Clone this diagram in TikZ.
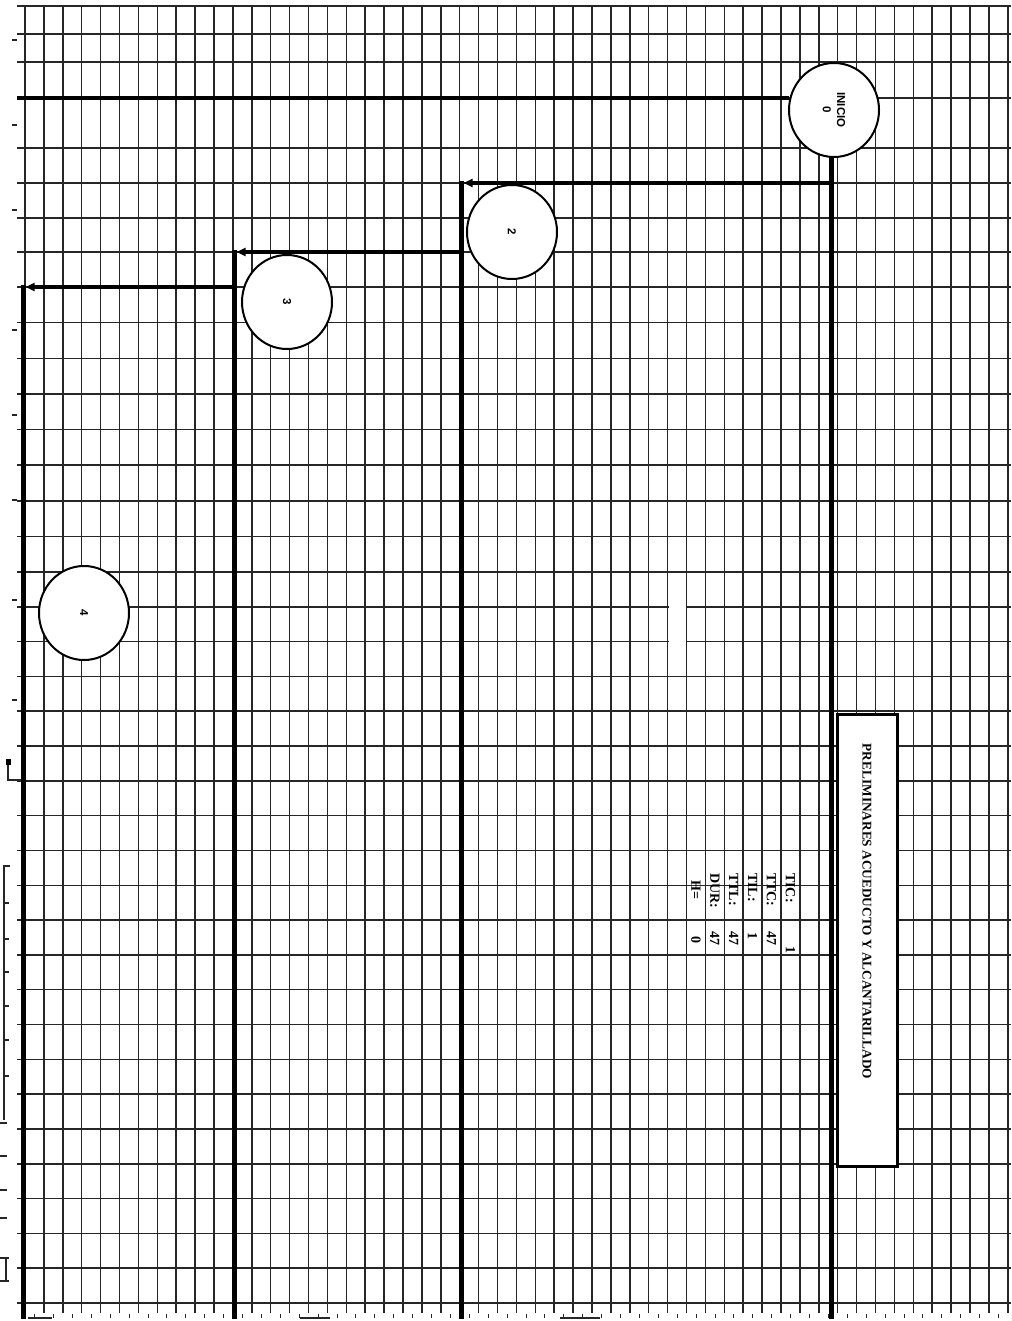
\documentclass[tikz,border=0pt]{standalone}
\usepackage{fontspec}
\setmainfont{Liberation Serif}
\newfontfamily\arialf{Liberation Sans}
\usepackage{graphicx}
\usetikzlibrary{arrows.meta,shapes.geometric}
\begin{document}
\begin{tikzpicture}[x=1pt,y=-1pt,
  gridline/.style={line width=1.5pt, black!85},
  flow/.style={line width=3.6pt, black},
  riser/.style={line width=5pt, black},
  tip/.style={-{Triangle[length=9pt,width=8pt]}},
  event/.style={ellipse, draw, line width=2pt, fill=white, minimum width=90pt,
    minimum height=94pt, inner sep=0pt, font=\arialf\bfseries\fontsize{11.5}{12}\selectfont},
  lbl/.style={rotate=-90, anchor=west, inner sep=0pt, font=\bfseries\fontsize{14}{14}\selectfont},
  val/.style={rotate=-90, inner sep=0pt, font=\bfseries\fontsize{14}{14}\selectfont},
  edgemark/.style={line width=1.2pt, black!85},
]
\useasboundingbox (0,0) rectangle (1011,1321);
\fill[white] (0,0) rectangle (1011,1321);

% ---- grid paper ----
\foreach \k in {0,...,52} \draw[gridline] ({25+18.9*\k},6) -- ({25+18.9*\k},1313);
\foreach \y in {6,34,62,98,148,183,218,252} \draw[gridline] (17,\y) -- (1011,\y);
\foreach \i in {0,...,8} \draw[gridline] (17,{287+35.625*\i}) -- (1011,{287+35.625*\i});
\foreach \i in {1,...,21} \draw[gridline] (17,{572+34.81*\i}) -- (1011,{572+34.81*\i});
\fill[white] (668.6,585) rectangle (685.6,668);

% ruler marks along the bottom edge
\foreach \k in {0,...,51} \draw[edgemark, line width=0.8pt] ({34.5+18.9*\k},1314) -- ({34.5+18.9*\k},1318);
\draw[edgemark] (28,1318) -- (52,1318);
\draw[edgemark] (300,1318) -- (330,1318);
\draw[edgemark] (560,1318) -- (600,1318);

% marks along the left edge
\draw[edgemark, line width=1.5pt] (8,762) -- (8,780) -- (21,780);
\fill (6,759) rectangle (11,765);
\draw[edgemark] (10,866) -- (4,866) -- (4,1120);
\foreach \y in {903,939,972,1006,1040,1076} \draw[edgemark] (4,\y) -- (9,\y);
\foreach \y in {1123,1156,1190,1218} \draw[edgemark] (0,\y) -- (7,\y);
\draw[edgemark] (6,1258) -- (6,1281);
\draw[edgemark] (0,1258) -- (9,1258);
\draw[edgemark] (0,1281) -- (9,1281);
\foreach \y in {40,125,210,330,415,500,600,700} \draw[edgemark] (12,\y) -- (17,\y);

% ---- events ----
\node[event] (ini) at (834,110) {\rotatebox{-90}{\shortstack{INICIO\\[3pt]0}}};
\node[event] (n2) at (512,232) {\rotatebox{-90}{2}};
\node[event] (n3) at (287,302) {\rotatebox{-90}{3}};
\node[event] (n4) at (84,613) {\rotatebox{-90}{4}};

% ---- connectors ----
\coordinate (leftedge) at (17,98);
\coordinate (r1top) at (831,157);
\coordinate (r1bot) at (831,1319);
\coordinate (b2) at (831,183);
\coordinate (r2tip) at (463.5,183);
\coordinate (r2top) at (461,181.2);
\coordinate (r2bot) at (461,1319);
\coordinate (b3) at (461,252);
\coordinate (r3tip) at (236.5,252);
\coordinate (r3top) at (234,250.2);
\coordinate (r3bot) at (234,1319);
\coordinate (b4) at (234,287);
\coordinate (r4tip) at (25.5,287);
\coordinate (r4top) at (23,285.2);
\coordinate (r4bot) at (23,1319);

\draw[flow] (ini.165) -- (ini.165 -| leftedge);
\draw[riser] (r1top) -- (r1bot);
\draw[flow, tip] (b2) -- (r2tip);
\draw[riser] (r2top) -- (r2bot);
\draw[flow, tip] (b3) -- (r3tip);
\draw[riser] (r3top) -- (r3bot);
\draw[flow, tip] (b4) -- (r4tip);
\draw[riser] (r4top) -- (r4bot);

% ---- activity label ----
\node[draw, line width=2.4pt, fill=white, minimum width=60pt, minimum height=452pt, inner sep=0pt]
  (tbox) at (867.5,940.5) {};
\node[rotate=-90, inner sep=0pt, font=\bfseries\fontsize{13.3}{14}\selectfont] (title)
  at (867,911.5) {PRELIMINARES ACUEDUCTO Y ALCANTARILLADO};

% ---- data table ----
\node[lbl] (lTIC) at (790.4,873) {TIC:};
\node[lbl] (lTTC) at (771.5,873) {TTC:};
\node[lbl] (lTIL) at (752.6,873) {TIL:};
\node[lbl] (lTTL) at (733.7,873) {TTL:};
\node[lbl] (lDUR) at (714.8,873) {DUR:};
\node[lbl] (lH) at (695.9,880) {H=};
\node[val] (vTIC) at (790.4,950) {1};
\node[val] (vTTC) at (771.5,938) {47};
\node[val] (vTIL) at (752.6,936) {1};
\node[val] (vTTL) at (733.7,938) {47};
\node[val] (vDUR) at (714.8,938) {47};
\node[val] (vH) at (695.9,940) {0};
\end{tikzpicture}
\end{document}
